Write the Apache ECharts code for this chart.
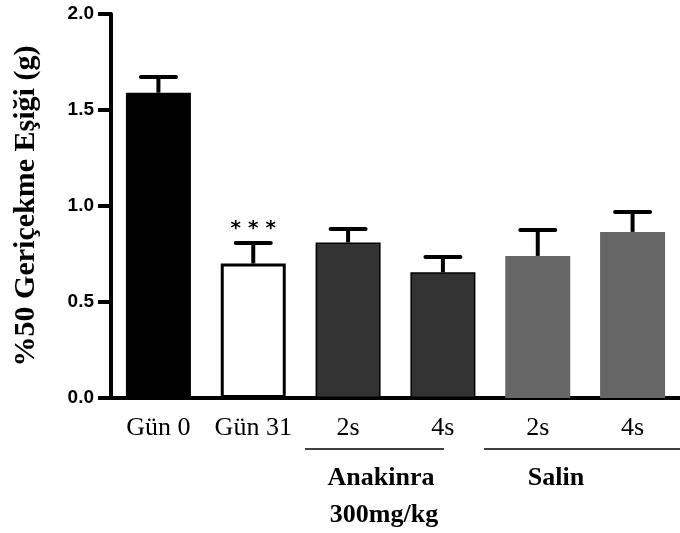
<!DOCTYPE html>
<html>
<head>
<meta charset="utf-8">
<script src="https://cdn.jsdelivr.net/npm/echarts@6/dist/echarts.min.js"></script>
<style>
html,body{margin:0;padding:0;background:#fff;}
#chart{width:680px;height:533px;}
</style>
</head>
<body>
<div id="chart"></div>
<script>
var categories = ['Gün 0', 'Gün 31', '2s', '4s', '2s', '4s'];
var means = [1.59, 0.70, 0.81, 0.655, 0.74, 0.865];
var errors = [0.082, 0.107, 0.07, 0.079, 0.135, 0.104];
var fills = ['#000000', '#ffffff', '#333333', '#333333', '#666666', '#666666'];
var significance = ['', '* * *', '', '', '', ''];
var yTicks = [0, 0.5, 1.0, 1.5, 2.0];

var chart = echarts.init(document.getElementById('chart'), null, {renderer: 'canvas'});

var barData = means.map(function (v, i) {
  var st = {color: fills[i]};
  if (fills[i] === '#ffffff') { st.borderColor = '#000'; st.borderWidth = 3; }
  else if (fills[i] === '#333333') { st.borderColor = '#000'; st.borderWidth = 1.5; }
  return {value: v, itemStyle: st};
});

var errData = means.map(function (v, i) { return [i, v, v + errors[i]]; });

var option = {
  animation: false,
  backgroundColor: '#ffffff',
  grid: {left: 111, width: 577, top: 14, bottom: 135, containLabel: false},
  xAxis: {
    type: 'category',
    data: categories,
    axisLine: {lineStyle: {color: '#000', width: 4}},
    axisTick: {show: false},
    axisLabel: {color: '#000', fontFamily: 'Liberation Serif', fontSize: 26, margin: 17, interval: 0}
  },
  yAxis: {
    type: 'value',
    min: yTicks[0],
    max: yTicks[yTicks.length - 1],
    interval: 0.5,
    name: '%50 Geriçekme Eşiği (g)',
    nameLocation: 'middle',
    nameGap: 70,
    nameTextStyle: {color: '#000', fontFamily: 'Liberation Serif', fontWeight: 'bold', fontSize: 30},
    axisLine: {show: true, lineStyle: {color: '#000', width: 4}},
    axisTick: {show: true, length: 13, lineStyle: {color: '#000', width: 4}},
    axisLabel: {color: '#000', fontFamily: 'Liberation Sans', fontWeight: 'bold', fontSize: 19, margin: 17,
      formatter: function (v) { return v.toFixed(1); }},
    splitLine: {show: false}
  },
  series: [
    {
      type: 'bar',
      data: barData,
      barWidth: 65,
      z: 3
    },
    {
      type: 'custom',
      z: 2,
      data: errData,
      renderItem: function (params, api) {
        var i = api.value(0);
        var lo = api.coord([i, api.value(1)]);
        var hi = api.coord([i, api.value(2)]);
        var half = 17.5;
        var children = [
          {type: 'line', shape: {x1: lo[0], y1: lo[1], x2: hi[0], y2: hi[1]}, style: {stroke: '#000', lineWidth: 4}},
          {type: 'line', shape: {x1: hi[0] - half, y1: hi[1], x2: hi[0] + half, y2: hi[1]}, style: {stroke: '#000', lineWidth: 4, lineCap: 'round'}}
        ];
        if (significance[i]) {
          children.push({type: 'text', style: {x: hi[0], y: hi[1] - 14, text: significance[i], fill: '#000',
            fontFamily: 'DejaVu Sans', fontSize: 20, fontWeight: 'bold', align: 'center', verticalAlign: 'middle'}});
        }
        return {type: 'group', children: children};
      }
    }
  ],
  graphic: [
    {type: 'line', shape: {x1: 305, y1: 449, x2: 444, y2: 449}, style: {stroke: '#000', lineWidth: 1.5}},
    {type: 'line', shape: {x1: 484, y1: 449, x2: 680, y2: 449}, style: {stroke: '#000', lineWidth: 1.5}},
    {type: 'text', x: 381, y: 478, style: {text: 'Anakinra', fill: '#000', font: 'bold 26px "Liberation Serif"', textAlign: 'center', textVerticalAlign: 'middle'}},
    {type: 'text', x: 384, y: 515, style: {text: '300mg/kg', fill: '#000', font: 'bold 26px "Liberation Serif"', textAlign: 'center', textVerticalAlign: 'middle'}},
    {type: 'text', x: 556, y: 478, style: {text: 'Salin', fill: '#000', font: 'bold 26px "Liberation Serif"', textAlign: 'center', textVerticalAlign: 'middle'}}
  ]
};
chart.setOption(option);
</script>
</body>
</html>
